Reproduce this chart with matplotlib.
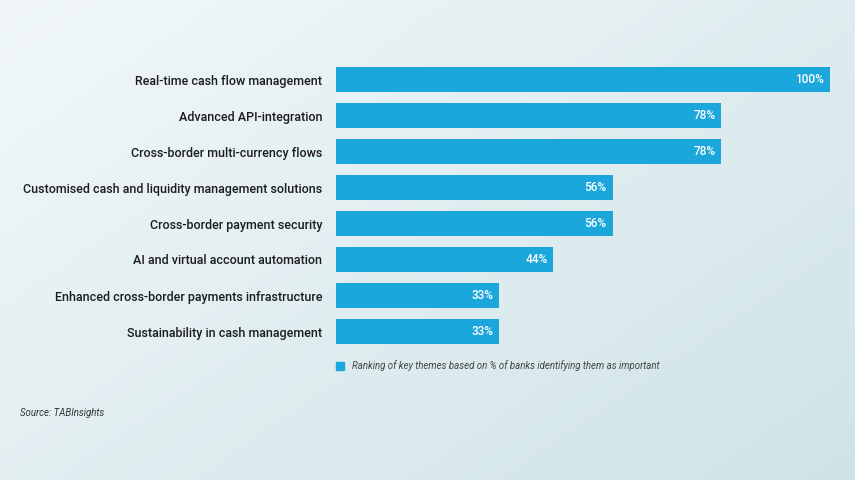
import numpy as np
import matplotlib
matplotlib.use('Agg')
from matplotlib import pyplot as plt
from matplotlib.patches import Rectangle

themes = ['Real-time cash flow management',
          'Advanced API-integration',
          'Cross-border multi-currency flows',
          'Customised cash and liquidity management solutions',
          'Cross-border payment security',
          'AI and virtual account automation',
          'Enhanced cross-border payments infrastructure',
          'Sustainability in cash management']
shares = [100, 78, 78, 56, 56, 44, 33, 33]
legend_text = 'Ranking of key themes based on % of banks identifying them as important'
source_text = 'Source: TABInsights'

W, H = 855, 480
fig = plt.figure(figsize=(W / 100, H / 100), dpi=100)

# soft gradient background
bg = fig.add_axes([0, 0, 1, 1])
xx, yy = np.meshgrid(np.linspace(0, 1, 200), np.linspace(0, 1, 120))
t = np.clip(0.55 * xx + 0.45 * yy, 0, 1)
c0 = np.array([0xf2, 0xf8, 0xf9]) / 255
c1 = np.array([0xcf, 0xe3, 0xe7]) / 255
img = c0[None, None, :] * (1 - t[..., None]) + c1[None, None, :] * t[..., None]
bg.imshow(img, aspect='auto', extent=[0, 1, 0, 1], origin='upper')
bg.set_xlim(0, 1)
bg.set_ylim(0, 1)
bg.axis('off')

bar_color = '#1ba6dc'
left, right = 336, 830
top, bottom = 61.5, 349.5
ax = fig.add_axes([left / W, 1 - bottom / H, (right - left) / W, (bottom - top) / H])
ax.patch.set_alpha(0)
y = np.arange(len(themes))
ax.barh(y, shares, height=0.7, color=bar_color)
ax.set_xlim(0, 100)
ax.set_ylim(len(themes) - 0.5, -0.5)
for s in ax.spines.values():
    s.set_visible(False)
ax.set_xticks([])
ax.set_yticks(y)
ax.set_yticklabels(themes, fontsize=9.0, color='#1c1c1c', fontfamily='Roboto',
                   fontweight='medium')
ax.tick_params(axis='y', length=0, pad=10)

for yi, v in zip(y, shares):
    ax.text(v - 1.2, yi, f'{v}%', ha='right', va='center', color='white',
            fontsize=8.5, fontweight='medium', fontfamily='Roboto')

# legend
fig.patches.append(Rectangle((336 / W, 1 - 370 / H), 8 / W, 8 / H,
                             transform=fig.transFigure, color=bar_color))
fig.text(352 / W, 1 - 366 / H, legend_text, fontsize=6.9, style='italic',
         color='#444444', va='center', ha='left', fontfamily='Roboto')
fig.text(20 / W, 1 - 413 / H, source_text, fontsize=6.9, style='italic',
         color='#333333', va='center', ha='left', fontfamily='Roboto')

fig.savefig('out.png', dpi=100)
